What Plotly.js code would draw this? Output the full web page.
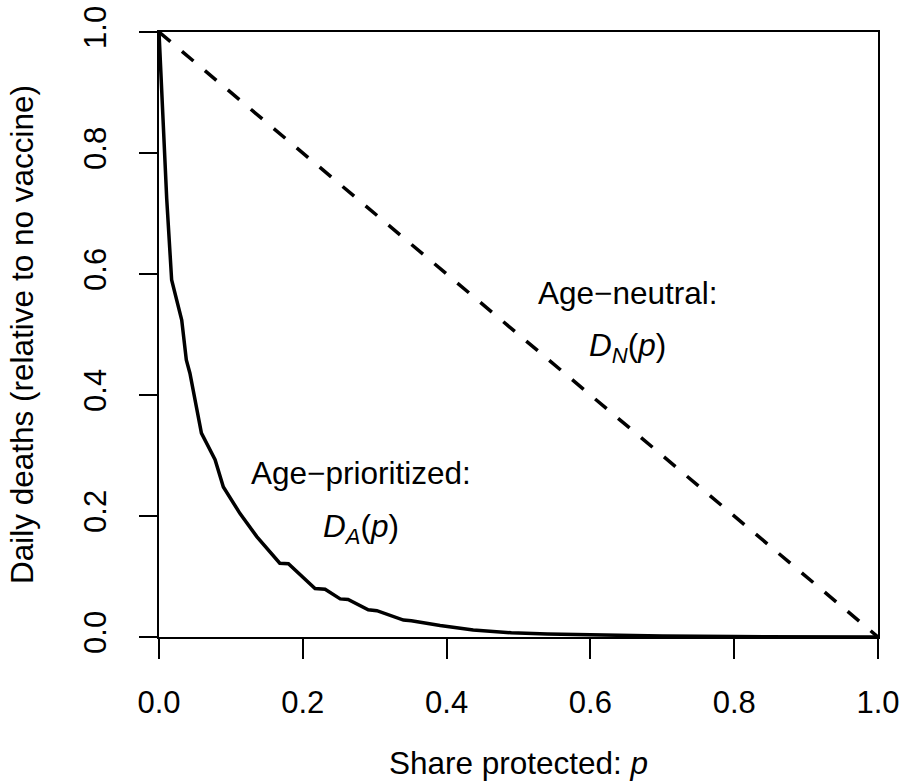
<!DOCTYPE html>
<html>
<head>
<meta charset="utf-8">
<script src="https://cdn.plot.ly/plotly-3.0.1.min.js"></script>
<style>
  html, body { margin: 0; padding: 0; background: #fff; }
  #chart { width: 903px; height: 781px; }
</style>
</head>
<body>
<div id="chart"></div>
<script>
// Age-prioritized curve D_A(p)
const pA = [0, 0.0107, 0.0176, 0.0316, 0.038, 0.043, 0.059, 0.078, 0.0895, 0.1127, 0.136, 0.152, 0.168, 0.180,
            0.217, 0.231, 0.252, 0.263, 0.291, 0.303, 0.340, 0.351, 0.381, 0.391, 0.437, 0.490, 0.540,
            0.610, 0.700, 0.800, 0.900, 1.0];
const dA = [1.0, 0.725, 0.590, 0.524, 0.458, 0.436, 0.337, 0.293, 0.248, 0.204, 0.166, 0.143, 0.122, 0.121,
            0.080, 0.079, 0.063, 0.062, 0.045, 0.0435, 0.028, 0.027, 0.020, 0.019, 0.0116, 0.007, 0.005,
            0.003, 0.0015, 0.0007, 0.0002, 0.0];
// Age-neutral line D_N(p)
const pN = [0, 1];
const dN = [1, 0];

const tickVals = [0, 0.2, 0.4, 0.6, 0.8, 1.0];
const tickText = ["0.0", "0.2", "0.4", "0.6", "0.8", "1.0"];

const labelNeutral = {x: 0.652, y: 0.569, text: "Age\u2212neutral:"};
const labelNeutralEq = {x: 0.652, y: 0.478, text: "<i>D</i><sub><i>N</i></sub>(<i>p</i>)"};
const labelPrior = {x: 0.281, y: 0.271, text: "Age\u2212prioritized:"};
const labelPriorEq = {x: 0.281, y: 0.180, text: "<i>D</i><sub><i>A</i></sub>(<i>p</i>)"};

const FONT = "Liberation Sans, Arial, Helvetica, sans-serif";
const FS = 31.5;
const FT = 31;

const traces = [
  {x: pN, y: dN, mode: "lines", type: "scatter", cliponaxis: false,
   line: {color: "#000", width: 3.5, dash: "15px,15px"}, hoverinfo: "skip", name: "Age-neutral"},
  {x: pA, y: dA, mode: "lines", type: "scatter", cliponaxis: false,
   line: {color: "#000", width: 3.5}, hoverinfo: "skip", name: "Age-prioritized"}
];

const annots = [labelNeutral, labelNeutralEq, labelPrior, labelPriorEq].map(a => ({
  x: a.x, y: a.y, xref: "x", yref: "y", text: a.text, showarrow: false,
  xanchor: "center", yanchor: "middle", font: {family: FONT, size: FS, color: "#000"}
}));

const layout = {
  width: 903, height: 781,
  margin: {l: 159, r: 25, t: 32, b: 144, pad: 0},
  paper_bgcolor: "#fff", plot_bgcolor: "#fff",
  showlegend: false,
  font: {family: FONT, size: FS, color: "#000"},
  xaxis: {
    range: [0, 1], autorange: false, fixedrange: true,
    showgrid: false, zeroline: false,
    showline: true, mirror: true, linecolor: "#000", linewidth: 2,
    ticks: "outside", ticklen: 20, tickwidth: 2, tickcolor: "#000",
    tickvals: tickVals, ticktext: tickText,
    tickfont: {family: FONT, size: FT, color: "#000"},
    ticklabelstandoff: 17,
    title: {text: "Share protected: <i>p</i>", font: {family: FONT, size: FS, color: "#000"}, standoff: 36},
    automargin: false
  },
  yaxis: {
    range: [0, 1], autorange: false, fixedrange: true,
    showgrid: false, zeroline: false,
    showline: true, mirror: true, linecolor: "#000", linewidth: 2,
    ticks: "outside", ticklen: 18, tickwidth: 2, tickcolor: "#000",
    tickvals: tickVals, ticktext: tickText, tickangle: -90,
    tickfont: {family: FONT, size: FT, color: "#000"},
    ticklabelstandoff: 21,
    title: {text: "Daily deaths (relative to no vaccine)", font: {family: FONT, size: FS, color: "#000"}, standoff: 35},
    automargin: false
  },
  annotations: annots
};

Plotly.newPlot("chart", traces, layout, {displayModeBar: false, staticPlot: true});
</script>
</body>
</html>
